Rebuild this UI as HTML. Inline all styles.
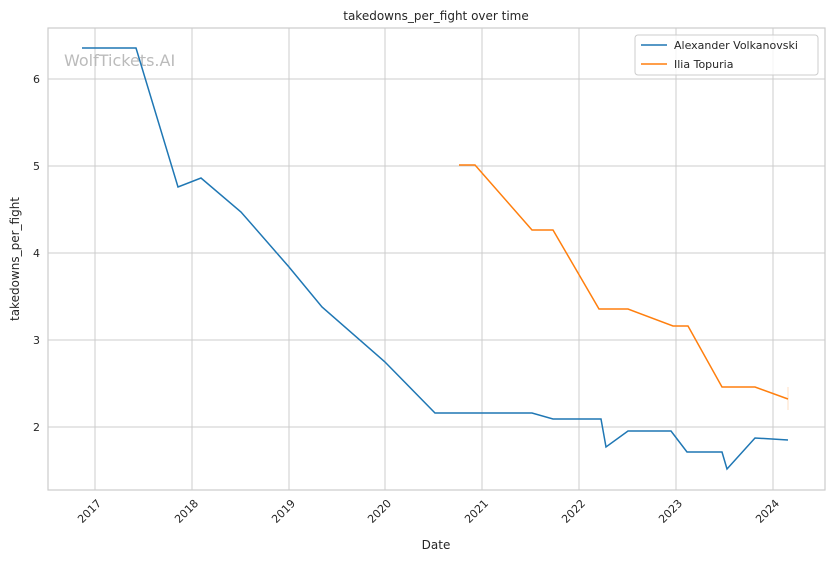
<!DOCTYPE html>
<html><head><style>body{margin:0;background:#fff}svg text{font-family:"DejaVu Sans","Liberation Sans",sans-serif;fill:#262626}</style></head><body>
<svg width="832" height="561" xmlns="http://www.w3.org/2000/svg">
<rect width="832" height="561" fill="#fff"/>
<g stroke="#cccccc" stroke-width="1">
<line x1="95" y1="28" x2="95" y2="490"/><line x1="192" y1="28" x2="192" y2="490"/><line x1="289" y1="28" x2="289" y2="490"/><line x1="385" y1="28" x2="385" y2="490"/><line x1="482" y1="28" x2="482" y2="490"/><line x1="579" y1="28" x2="579" y2="490"/><line x1="676" y1="28" x2="676" y2="490"/><line x1="773" y1="28" x2="773" y2="490"/>
<line x1="48" y1="79" x2="825" y2="79"/><line x1="48" y1="166" x2="825" y2="166"/><line x1="48" y1="253" x2="825" y2="253"/><line x1="48" y1="340" x2="825" y2="340"/><line x1="48" y1="427" x2="825" y2="427"/>
</g>
<rect x="48" y="28" width="777" height="462" fill="none" stroke="#cccccc" stroke-width="1.2"/>
<text x="64" y="66" font-size="16" style="fill:#bbbbbb">WolfTickets.AI</text>
<polyline fill="none" stroke="#1f77b4" stroke-width="1.5" points="82,48 136,48 178,187 201,178 241,212 289,267 322,307 385,362 435,413 532,413 553,419 601,419 606,447 628,431 671,431 687,452 722,452 727,469 755,438 788,440"/>
<polyline fill="none" stroke="#ff7f0e" stroke-width="1.5" points="459,165 475,165 532,230 553,230 599,309 628,309 673,326 688,326 722,387 755,387 788,399"/>
<line x1="788" y1="387" x2="788" y2="410" stroke="#ff7f0e" stroke-opacity="0.25"/>
<g font-size="11" text-anchor="end">
<text x="40" y="83">6</text><text x="40" y="170">5</text><text x="40" y="257">4</text><text x="40" y="344">3</text><text x="40" y="431">2</text>
</g>
<g font-size="11" text-anchor="end">
<text transform="translate(102,504) rotate(-45)">2017</text><text transform="translate(199,504) rotate(-45)">2018</text><text transform="translate(296,504) rotate(-45)">2019</text><text transform="translate(392,504) rotate(-45)">2020</text><text transform="translate(489,504) rotate(-45)">2021</text><text transform="translate(586,504) rotate(-45)">2022</text><text transform="translate(683,504) rotate(-45)">2023</text><text transform="translate(780,504) rotate(-45)">2024</text>
</g>
<text x="436" y="549" font-size="12" text-anchor="middle">Date</text>
<text transform="translate(19,259) rotate(-90)" font-size="12" text-anchor="middle">takedowns_per_fight</text>
<text x="436" y="20" font-size="12" text-anchor="middle">takedowns_per_fight over time</text>
<rect x="635" y="35" width="183" height="40" rx="3" fill="#fff" fill-opacity="0.8" stroke="#cccccc"/>
<line x1="641" y1="45" x2="667" y2="45" stroke="#1f77b4" stroke-width="1.5"/>
<text x="674" y="49" font-size="11">Alexander Volkanovski</text>
<line x1="641" y1="64" x2="667" y2="64" stroke="#ff7f0e" stroke-width="1.5"/>
<text x="674" y="68" font-size="11">Ilia Topuria</text>
</svg>
</body></html>
